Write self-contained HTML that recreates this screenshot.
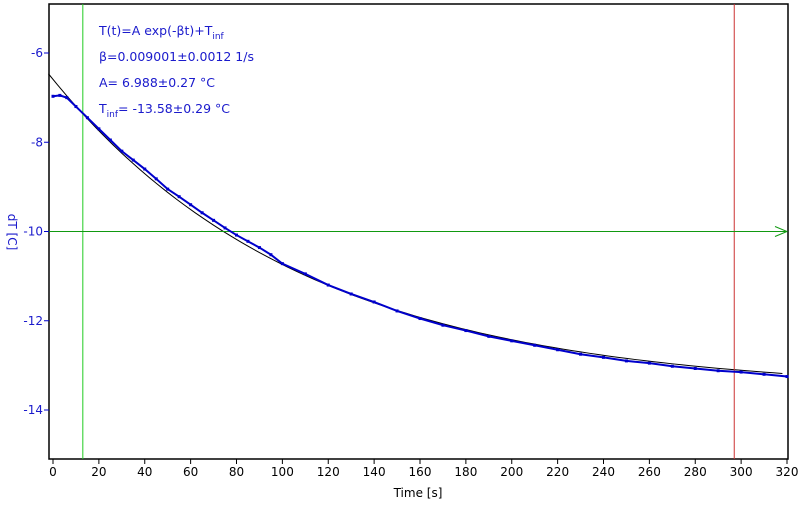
<!DOCTYPE html>
<html><head><meta charset="utf-8"><style>
body{margin:0;background:#fff;width:800px;height:504px;overflow:hidden;font-family:"DejaVu Sans","Liberation Sans",sans-serif}
</style></head><body>
<svg id="chart" width="800" height="504" xmlns="http://www.w3.org/2000/svg">
<g id="plot"></g>
</svg>
<script>
const xTicks=[0,20,40,60,80,100,120,140,160,180,200,220,240,260,280,300,320];
const yTicks=[-6,-8,-10,-12,-14];
const times=[0,3,6,10,15,20,25,30,35,40,45,50,55,60,65,70,75,80,85,90,95,100,110,120,130,140,150,160,170,180,190,200,210,220,230,240,250,260,270,280,290,300,310,320];
const temps=[-6.97,-6.95,-7.0,-7.2,-7.45,-7.7,-7.95,-8.2,-8.4,-8.6,-8.82,-9.05,-9.22,-9.4,-9.58,-9.75,-9.92,-10.08,-10.22,-10.36,-10.52,-10.72,-10.95,-11.2,-11.4,-11.58,-11.78,-11.95,-12.1,-12.22,-12.35,-12.45,-12.55,-12.65,-12.75,-12.82,-12.9,-12.95,-13.02,-13.07,-13.12,-13.15,-13.2,-13.25];
const fitParams=[6.988,0.009001,-13.58];
const cursors=[13,297];
const hLine=[-10];
const NS='http://www.w3.org/2000/svg';
const g=document.getElementById('plot');
const X=t=>53+t*(734/320);
const Y=v=>53+(-6-v)*44.625;
function mk(tag,at,parent){const e=document.createElementNS(NS,tag);for(const k in at)e.setAttribute(k,at[k]);(parent||g).appendChild(e);return e;}
const frame=mk('rect',{x:49,y:4,width:739,height:455,fill:'none',stroke:'#000','stroke-width':1.5});


xTicks.forEach(t=>{
  const l=mk('line',{x1:X(t),x2:X(t),y1:459,y2:464,stroke:'#000'});
  
  
  const tx=mk('text',{x:X(t),y:476,'text-anchor':'middle','font-size':12,fill:'#000'});
  tx.textContent=t;
  
  
});
yTicks.forEach(v=>{
  const l=mk('line',{x1:44,x2:49,y1:Y(v),y2:Y(v),stroke:'#00c'});
  
  
  const tx=mk('text',{x:43,y:Y(v)+4,'text-anchor':'end','font-size':12,fill:'#1a1acc'});
  tx.textContent=v;
  
  
});
const xl=mk('text',{x:418,y:497,'text-anchor':'middle','font-size':12,fill:'#000'});
xl.textContent='Time [s]';


const yl=mk('text',{x:0,y:0,transform:'translate(8,232) rotate(90)','text-anchor':'middle','font-size':12,fill:'#1a1acc'});
yl.textContent='dT [C]';


let fp=[];for(let t=-2;t<=320;t+=4){fp.push(X(t)+','+Y(fitParams[0]*Math.exp(-fitParams[1]*t)+fitParams[2]));}
const fit=mk('polyline',{points:fp.join(' '),fill:'none',stroke:'#000','stroke-width':1});


const c1=mk('line',{x1:X(cursors[0]),x2:X(cursors[0]),y1:4,y2:459,stroke:'#2c2'});


const c2=mk('line',{x1:X(cursors[1]),x2:X(cursors[1]),y1:4,y2:459,stroke:'#c33'});


const hl=mk('line',{x1:49,x2:787,y1:Y(hLine[0]),y2:Y(hLine[0]),stroke:'#191'});


const ar=mk('polyline',{points:`${775},${Y(hLine[0])-5} ${787},${Y(hLine[0])} ${775},${Y(hLine[0])+5}`,fill:'none',stroke:'#191'});


const dl=mk('polyline',{points:times.map((t,i)=>X(t)+','+Y(temps[i])).join(' '),fill:'none',stroke:'#00c','stroke-width':2});


times.forEach((t,i)=>{
  const r=mk('rect',{x:X(t)-1.5,y:Y(temps[i])-1.5,width:3,height:3,fill:'#00c'});
  
  
});
const lines=[['T(t)=A exp(-βt)+T','inf',''],['β=0.009001±0.0012 1/s'],['A= 6.988±0.27 °C'],['T','inf','= -13.58±0.29 °C']];
lines.forEach((ln,i)=>{
  const tx=mk('text',{x:99,y:35+i*26,'font-size':12.5,fill:'#1a1acc'});
  
  
  const a=mk('tspan',{},tx);a.textContent=ln[0];
  if(ln.length>1){const s=mk('tspan',{dy:4,'font-size':9},tx);s.textContent=ln[1];
    if(ln[2]){const b=mk('tspan',{dy:-4},tx);b.textContent=ln[2];}}
});
</script>
</body></html>
